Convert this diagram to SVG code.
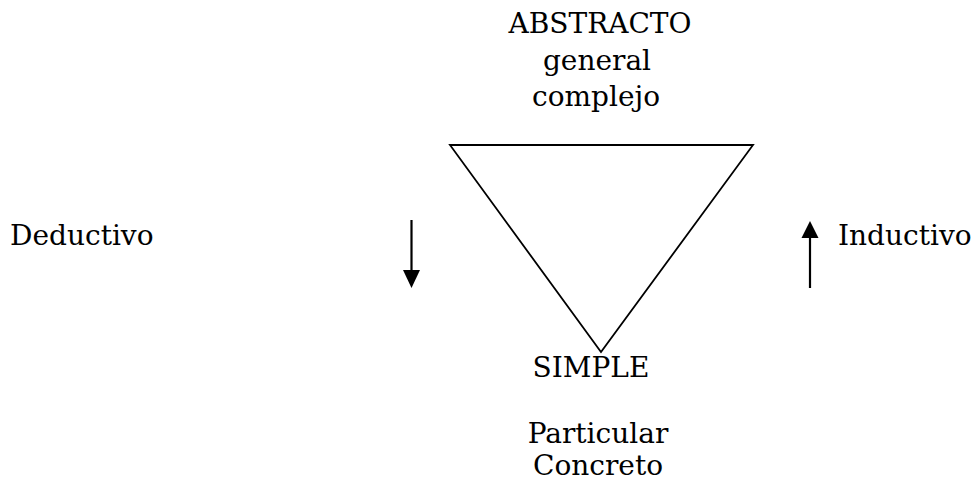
<svg xmlns="http://www.w3.org/2000/svg" width="973" height="483" viewBox="0 0 973 483">
<style>
text{font-family:"DejaVu Serif","Liberation Serif",serif;font-size:28px;fill:#000}
.c{text-anchor:middle}
.ln{stroke:#000;stroke-width:2.2;fill:none}
</style>
<rect width="973" height="483" fill="#fff"/>
<g id="top-label">
<text class="c" x="600" y="33">ABSTRACTO</text>
<text class="c" x="597" y="70">general</text>
<text class="c" x="596" y="106">complejo</text>
</g>
<g id="triangle">
<polygon points="450,145 753,145 601,352" fill="none" stroke="#000" stroke-width="1.8"/>
</g>
<g id="deductivo">
<text x="10" y="245">Deductivo</text>
</g>
<g id="inductivo">
<text x="838" y="245">Inductivo</text>
</g>
<g id="bottom-label">
<text class="c" x="591" y="377">SIMPLE</text>
<text class="c" x="598" y="443">Particular</text>
<text class="c" x="598" y="475">Concreto</text>
</g>
<g id="connectors">
<line class="ln" x1="411.5" y1="220" x2="411.5" y2="273"/>
<path d="M403,270 L420,270 L411.5,288 Z" fill="#000"/>
<line class="ln" x1="810" y1="288" x2="810" y2="236"/>
<path d="M801.5,238 L818.5,238 L810,221 Z" fill="#000"/>
</g>
</svg>
